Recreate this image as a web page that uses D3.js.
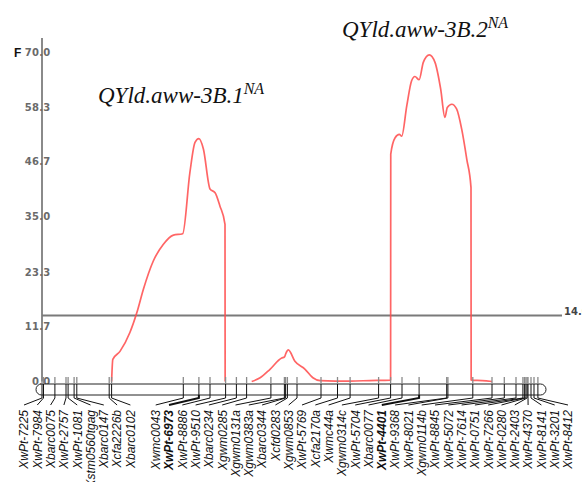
<!DOCTYPE html>
<html>
<head>
<meta charset="utf-8">
<script src="https://cdn.jsdelivr.net/npm/d3@7"></script>
<style>
  body { margin: 0; background: #fff; }
  svg { display: block; }
</style>
</head>
<body>
<svg id="chart" width="582" height="482"></svg>
<script>
// Chromosome 3B linkage map: marker names and positions (cM)
const markerNames = [
  "XwPt-7225", "XwPt-7984", "Xbarc0075", "XwPt-2757", "XwPt-1081", "Xstm0560tgag",
  "Xbarc0147", "Xcfa2226b", "Xbarc0102", "Xwmc0043", "XwPt-6973", "XwPt-8886",
  "XwPt-9510", "Xbarc0234", "Xgwm0285", "Xgwm0131a", "Xgwm0383a", "Xbarc0344",
  "Xcfd0283", "Xgwm0853", "XwPt-5769", "Xcfa2170a", "Xwmc44a", "Xgwm0314c",
  "XwPt-5704", "Xbarc0077", "XwPt-4401", "XwPt-9368", "XwPt-8021", "Xgwm0114b",
  "XwPt-8845", "XwPt-5072", "XwPt-7614", "XwPt-0751", "XwPt-7266", "XwPt-0280",
  "XwPt-2403", "XwPt-4370", "XwPt-8141", "XwPt-3201", "XwPt-8412"
];
const markerPos = [
  0.0, 0.5, 4.3, 8.0, 8.7, 10.7,
  11.6, 22.4, 23.2, 47.1, 52.3, 56.0,
  61.2, 64.8, 68.2, 76.3, 80.8, 81.2,
  81.8, 85.0, 93.0, 98.5, 102.7, 112.2,
  116.2, 120.0, 125.7, 134.9, 135.3, 143.6,
  150.0, 154.1, 158.0, 160.3, 160.8, 161.3,
  161.7, 162.0, 163.0, 164.0, 165.3
];
const chromLength = 166;
const boldMarkers = ["XwPt-6973", "XwPt-4401"];

// F-statistic axis
const fTicks = [0, 11.7, 23.3, 35.0, 46.7, 58.3, 70.0];
const fTickLabels = ["0.0", "11.7", "23.3", "35.0", "46.7", "58.3", "70.0"];
const fMax = 70;
const threshold = 14.0;
const thresholdLabel = "14.0";

// F profile scan, in two pieces (position cM, F value)
const scan1Pos = [23.2, 23.6, 26.0, 29.3, 31.6, 33.8, 37.1, 40.4, 43.8, 46.9, 49.3, 51.0, 52.3, 53.8, 56.0, 57.7, 59.3, 61.0, 61.05];
const scan1F   = [0.0,  4.7,  6.4,  10.4, 14.6, 19.6, 25.6, 29.1, 31.1, 31.4, 44.4, 50.8, 51.6, 49.4, 40.9, 40.1, 37.3, 33.4, 0.0];

const scan2Pos = [69.9, 72.7, 76.0, 79.9, 80.8, 81.3, 82.1, 84.3, 87.7, 90.3, 92.7, 97.7, 102.7, 109.3, 116.2,
                  116.25, 117.7, 119.1, 119.9, 121.6, 123.2, 124.3, 125.7, 127.1, 129.1, 131.0, 132.9, 134.3,
                  135.1, 136.6, 138.2, 139.9, 141.6, 143.0, 143.05, 146.7, 150.0];
const scan2F   = [0.0,  0.8,  2.6,  5.0,  5.2,  6.0,  6.7,  4.3,  2.6,  0.8,  0.2,  0.1,  0.1,   0.2,   0.3,
                  48.3,   51.8,  52.5,  52.1,  58.6,  63.9,  64.8,  64.1,  67.8,  69.4,  67.8,  62.1,  56.1,
                  58.2,  58.9,  57.9,  53.6,  47.2,  41.2,  0.3,    0.2,   0.0];

const qtlNames = ["QYld.aww-3B.1", "QYld.aww-3B.2"];
const qtlSup = ["NA", "NA"];

// ---------------------------------------------------------------
const svg = d3.select("#chart");

const x = d3.scaleLinear().domain([0, chromLength]).range([42, 540]);
const y = d3.scaleLinear().domain([0, fMax]).range([381.5, 52]);

// y axis
const axisX = x(0);
svg.append("line")
  .attr("x1", axisX).attr("x2", axisX)
  .attr("y1", y(0)).attr("y2", y(fMax) - 14)
  .attr("stroke", "#8a8a8a").attr("stroke-width", 2);

const yAxis = d3.axisLeft(y)
  .tickValues(fTicks)
  .tickFormat((d, i) => fTickLabels[i])
  .tickSize(0)
  .tickPadding(-8.5);

const yg = svg.append("g")
  .attr("transform", `translate(${axisX},0)`)
  .call(yAxis);
yg.select(".domain").remove();
yg.selectAll("text")
  .attr("font-family", "DejaVu Sans, sans-serif")
  .attr("font-size", 10)
  .attr("font-weight", "bold")
  .attr("letter-spacing", 0.3)
  .attr("fill", "#6a6a6a");

svg.append("text")
  .attr("x", 14).attr("y", y(fMax) + 4.5)
  .attr("font-family", "Liberation Sans, Arial, sans-serif")
  .attr("font-weight", "bold")
  .attr("font-size", 12)
  .attr("fill", "#111")
  .text("F");

// significance threshold
svg.append("line")
  .attr("x1", axisX).attr("x2", 562)
  .attr("y1", y(threshold)).attr("y2", y(threshold))
  .attr("stroke", "#7a7a7a").attr("stroke-width", 2);
svg.append("text")
  .attr("x", 564).attr("y", y(threshold) - 0.5)
  .attr("font-family", "DejaVu Sans, sans-serif")
  .attr("font-weight", "bold")
  .attr("font-size", 10)
  .attr("fill", "#444")
  .text(thresholdLabel);

// F profile
const line = d3.line()
  .x(d => x(d[0]))
  .y(d => y(d[1]))
  .curve(d3.curveMonotoneX);

[[scan1Pos, scan1F], [scan2Pos, scan2F]].forEach(([p, f]) => {
  svg.append("path")
    .datum(p.map((v, i) => [v, f[i]]))
    .attr("d", line)
    .attr("fill", "none")
    .attr("stroke", "#ff4a4a")
    .attr("stroke-opacity", 0.85)
    .attr("stroke-width", 1.7)
    .attr("stroke-linejoin", "round");
});

// chromosome bar
const barTop = 384, barH = 11;
svg.append("rect")
  .attr("x", x(0) - 6).attr("y", barTop)
  .attr("width", x(chromLength) - x(0) + 12).attr("height", barH)
  .attr("rx", 5.5).attr("ry", 5.5)
  .attr("fill", "#fff").attr("stroke", "#222").attr("stroke-width", 1);

// spread marker labels so they do not overlap
function spreadLabels(xs, gap, lo, hi) {
  const groups = xs.map(v => ({ n: 1, sum: v }));
  const left = g => Math.max(lo, Math.min(hi - (g.n - 1) * gap, g.sum / g.n - (g.n - 1) * gap / 2));
  let merged = true;
  while (merged) {
    merged = false;
    for (let i = 0; i < groups.length - 1; i++) {
      const a = groups[i], b = groups[i + 1];
      if (left(b) < left(a) + a.n * gap) {
        a.n += b.n; a.sum += b.sum;
        groups.splice(i + 1, 1);
        merged = true;
        break;
      }
    }
  }
  const out = [];
  groups.forEach(g => { const l = left(g); for (let k = 0; k < g.n; k++) out.push(l + k * gap); });
  return out;
}

const markerX = markerPos.map(p => x(p));
const labelX = spreadLabels(markerX, 13.3, 24, 568);

const markers = svg.append("g");
markerNames.forEach((name, i) => {
  const mx = markerX[i], lx = labelX[i];
  const bold = boldMarkers.includes(name);
  markers.append("line")
    .attr("x1", mx).attr("x2", mx).attr("y1", 377).attr("y2", barTop)
    .attr("stroke", "#8a8a8a").attr("stroke-width", 1.3);
  markers.append("line")
    .attr("x1", mx).attr("x2", mx).attr("y1", barTop).attr("y2", barTop + barH)
    .attr("stroke", "#111").attr("stroke-width", 1);
  markers.append("path")
    .attr("d", `M${mx},${barTop + barH}V${barTop + barH + 3}L${lx},405`)
    .attr("fill", "none")
    .attr("stroke", "#111")
    .attr("stroke-width", bold ? 2 : 1);
  markers.append("text")
    .attr("transform", `translate(${lx + 4.3},410) rotate(-90)`)
    .attr("text-anchor", "end")
    .attr("font-family", "Liberation Sans, Arial, sans-serif")
    .attr("font-style", "italic")
    .attr("font-weight", bold ? "bold" : "normal")
    .attr("font-size", 12)
    .attr("fill", "#111")
    .text(name);
});

// QTL names
const qtlAnchor = [[98, 103], [342, 37]];
qtlNames.forEach((nm, i) => {
  const t = svg.append("text")
    .attr("x", qtlAnchor[i][0]).attr("y", qtlAnchor[i][1])
    .attr("font-family", "Liberation Serif, Times New Roman, serif")
    .attr("font-style", "italic")
    .attr("font-size", 23)
    .attr("fill", "#111");
  t.append("tspan").text(nm);
  t.append("tspan").attr("dy", -9).attr("font-size", 16).text(qtlSup[i]);
});
</script>
</body>
</html>
